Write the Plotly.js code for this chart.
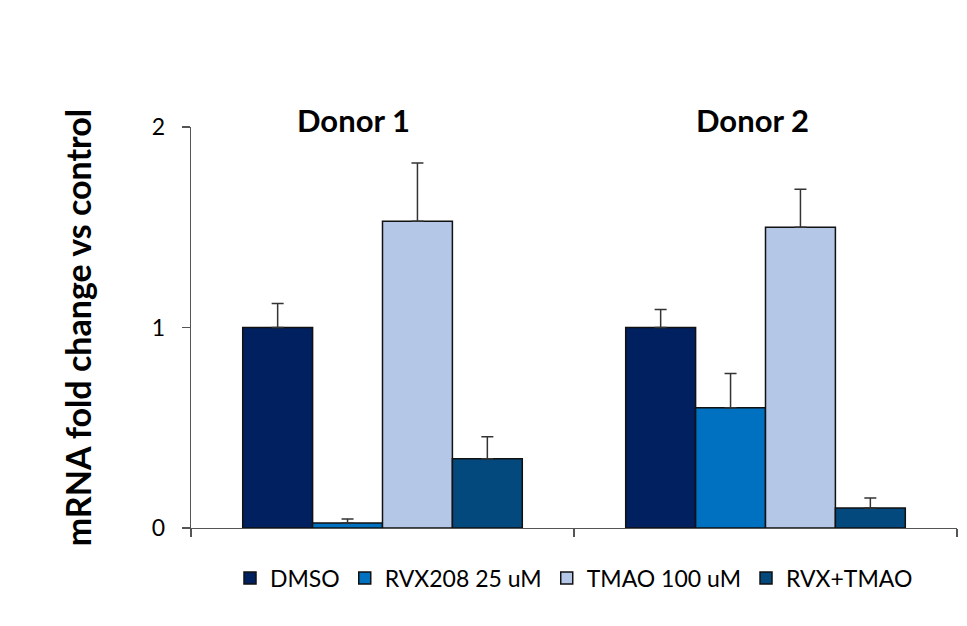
<!DOCTYPE html>
<html><head><meta charset="utf-8">
<script src="https://cdn.plot.ly/plotly-3.0.1.min.js"></script>
<style>html,body{margin:0;padding:0;background:#fff}#chart{width:967px;height:626px}</style>
</head><body><div id="chart"></div>
<script>
const categories = ["Donor 1", "Donor 2"];
const seriesNames = ["DMSO", "RVX208 25 uM", "TMAO 100 uM", "RVX+TMAO"];
const dmso = [1.0, 1.0];
const dmsoErr = [0.12, 0.09];
const rvx = [0.025, 0.60];
const rvxErr = [0.02, 0.17];
const tmao = [1.53, 1.50];
const tmaoErr = [0.29, 0.19];
const combo = [0.345, 0.10];
const comboErr = [0.11, 0.05];
const yTicks = [0, 1, 2];

const colors = ["#002060", "#0070C0", "#B4C7E7", "#03497E"];
const values = [dmso, rvx, tmao, combo];
const errs = [dmsoErr, rvxErr, tmaoErr, comboErr];
const font = "Lato, 'Open Sans', sans-serif";

const traces = values.map((v, i) => ({
  type: "bar",
  name: seriesNames[i],
  x: categories,
  y: v,
  marker: {color: colors[i], line: {color: "#111111", width: 1.5}},
  error_y: {type: "data", symmetric: false, array: errs[i], arrayminus: errs[i].map(() => 0),
            color: "#333333", thickness: 1.5, width: 6},
  hoverinfo: "skip"
}));

const layout = {
  width: 967, height: 626,
  margin: {l: 191, r: 10, t: 127, b: 98},
  paper_bgcolor: "#fff", plot_bgcolor: "#fff",
  font: {family: font, size: 22, color: "#000"},
  barmode: "group", bargap: 0.27, bargroupgap: 0,
  showlegend: true,
  legend: {orientation: "h", x: 0.5, xanchor: "center", y: -0.125, yanchor: "middle",
           font: {family: font, size: 23, color: "#000"}, traceorder: "normal"},
  xaxis: {type: "category", showticklabels: false, showline: true, linecolor: "#555", linewidth: 1.2,
          ticks: "outside", tickson: "boundaries", ticklen: 8, tickcolor: "#555", tickwidth: 1.5,
          showgrid: false, zeroline: false, fixedrange: true},
  yaxis: {range: [0, 2], tickvals: yTicks, ticktext: yTicks.map(String), showline: true, linecolor: "#555",
          linewidth: 1.2, ticks: "outside", ticklen: 8, tickcolor: "#555", tickwidth: 1.5, showgrid: false,
          zeroline: false, ticklabelstandoff: 12, tickfont: {family: font, size: 23, color: "#000"},
          title: {text: "<b>mRNA fold change vs control</b>", font: {family: font, size: 34, color: "#000"}, standoff: 50}},
  annotations: categories.map((c, i) => ({
    x: c, y: 2, xref: "x", yref: "y", text: "<b>" + c + "</b>", showarrow: false,
    yanchor: "middle", yshift: 7, xshift: i === 0 ? -29 : -13,
    font: {family: font, size: 31, color: "#000"}
  }))
};
Plotly.newPlot("chart", traces, layout, {displayModeBar: false, staticPlot: true});
</script></body></html>
